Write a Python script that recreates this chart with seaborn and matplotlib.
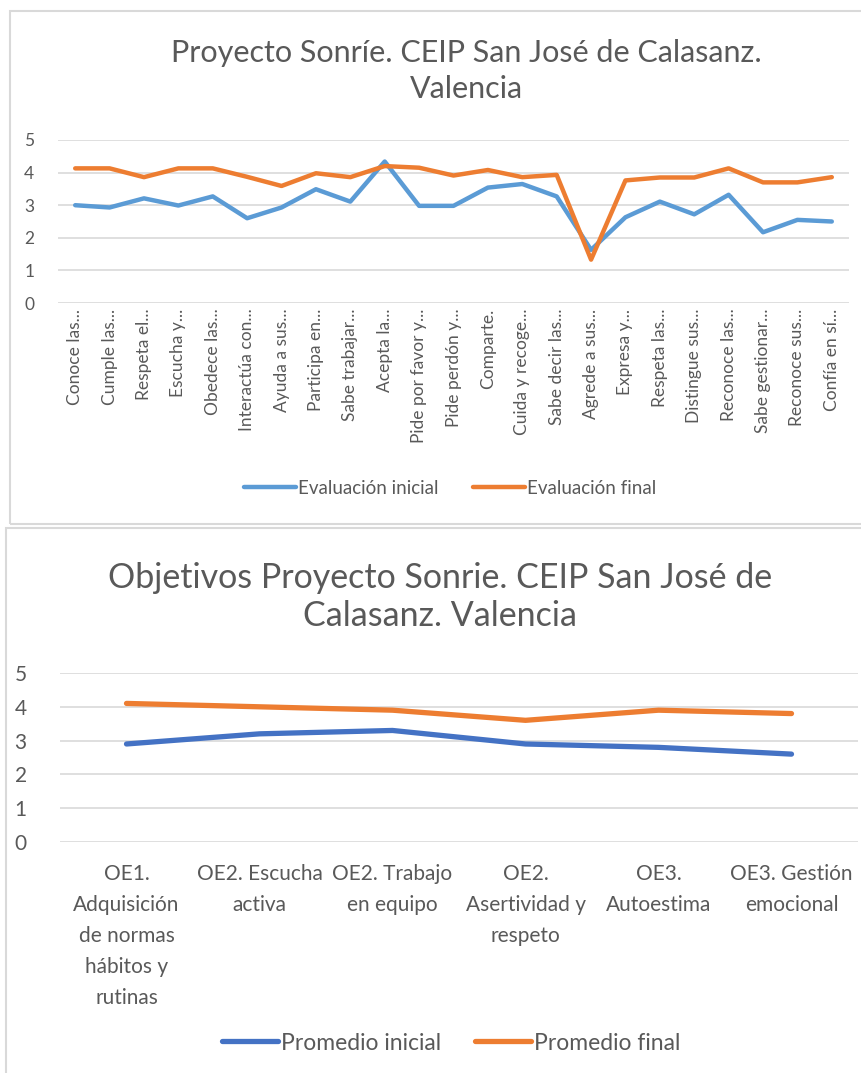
import numpy as np
import pandas as pd
import matplotlib
matplotlib.use("Agg")
import matplotlib.pyplot as plt
from matplotlib.patches import Rectangle
import seaborn as sns

# ---------------- data ----------------
items = ["Conoce las...", "Cumple las...", "Respeta el...", "Escucha y...", "Obedece las...",
         "Interactúa con...", "Ayuda a sus...", "Participa en...", "Sabe trabajar...",
         "Acepta la...", "Pide por favor y...", "Pide perdón y...", "Comparte.",
         "Cuida y recoge...", "Sabe decir las...", "Agrede a sus...", "Expresa y...",
         "Respeta las...", "Distingue sus...", "Reconoce las...", "Sabe gestionar...",
         "Reconoce sus...", "Confía en sí..."]
eval_inicial = [3.0, 2.93, 3.21, 2.99, 3.27, 2.60, 2.93, 3.49, 3.11, 4.34, 2.98, 2.98,
                3.54, 3.65, 3.27, 1.63, 2.63, 3.11, 2.72, 3.32, 2.17, 2.55, 2.50]
eval_final = [4.13, 4.13, 3.86, 4.13, 4.13, 3.87, 3.59, 3.98, 3.86, 4.20, 4.15, 3.91,
              4.08, 3.86, 3.93, 1.33, 3.76, 3.85, 3.85, 4.13, 3.70, 3.70, 3.86]

objetivos = ["OE1.\nAdquisición\nde normas\nhábitos y\nrutinas", "OE2. Escucha\nactiva",
             "OE2. Trabajo\nen equipo", "OE2.\nAsertividad y\nrespeto", "OE3.\nAutoestima",
             "OE3. Gestión\nemocional"]
prom_inicial = [2.9, 3.2, 3.3, 2.9, 2.8, 2.6]
prom_final = [4.1, 4.0, 3.9, 3.6, 3.9, 3.8]

yticks = [0, 1, 2, 3, 4, 5]

# ---------------- style ----------------
sns.set_theme(style="white")
plt.rcParams["font.family"] = ["Lato", "DejaVu Sans"]
TXT = "#595959"
GRID = "#D9D9D9"

W, H = 861, 1073
fig = plt.figure(figsize=(W / 100, H / 100), dpi=100)

def fx(px):
    return px / W

def fy(py):
    return 1 - py / H

# chart borders
fig.patches.append(Rectangle((fx(10), fy(524)), fx(880), 513 / H, transform=fig.transFigure,
                             fill=False, edgecolor=GRID, lw=1.5))
fig.patches.append(Rectangle((fx(6), fy(1090)), fx(880), 562 / H, transform=fig.transFigure,
                             fill=False, edgecolor=GRID, lw=1.5))

def style_axes(ax, fs_y):
    for s in ax.spines.values():
        s.set_visible(False)
    ax.set_ylim(0, 5)
    ax.set_yticks(yticks)
    ax.yaxis.grid(True, color=GRID, lw=1.2)
    ax.xaxis.grid(False)
    ax.set_axisbelow(True)
    ax.tick_params(axis="y", length=0, labelsize=fs_y, labelcolor=TXT, pad=17)
    ax.tick_params(axis="x", length=0, labelcolor=TXT)
    ax.set_xlabel("")
    ax.set_ylabel("")

# ---------------- top chart ----------------
ax1 = fig.add_axes([fx(58), fy(303), fx(849 - 58), 163 / H])
x1 = np.arange(len(items))
df1 = pd.DataFrame({"x": np.concatenate([x1, x1]),
                    "v": eval_inicial + eval_final,
                    "serie": ["Evaluación inicial"] * len(items) + ["Evaluación final"] * len(items)})
sns.lineplot(data=df1, x="x", y="v", hue="serie", palette=["#5B9BD5", "#ED7D31"],
             lw=3.2, sort=False, ax=ax1, legend=False)
style_axes(ax1, 12.5)
ax1.set_xlim(-0.5, len(items) - 0.5)
ax1.set_xticks(x1)
ax1.set_xticklabels(items, rotation=90, fontsize=12.5, va="top", ha="center")
ax1.tick_params(axis="x", pad=4)

fig.text(fx(466), fy(71), "Proyecto Sonríe. CEIP San José de Calasanz.\nValencia",
         ha="center", va="center", fontsize=22, color=TXT, linespacing=1.35)

h1 = [plt.Line2D([], [], color="#5B9BD5", lw=3.2),
      plt.Line2D([], [], color="#ED7D31", lw=3.2)]
fig.legend(h1, ["Evaluación inicial", "Evaluación final"], loc="center",
           bbox_to_anchor=(fx(450), fy(488)), ncol=2, frameon=False, fontsize=13.5,
           handlelength=2.8, handletextpad=0.1, columnspacing=1.8, labelcolor=TXT)

# ---------------- bottom chart ----------------
ax2 = fig.add_axes([fx(60), fy(842), fx(858 - 60), 169 / H])
x2 = np.arange(len(objetivos))
df2 = pd.DataFrame({"x": np.concatenate([x2, x2]),
                    "v": prom_inicial + prom_final,
                    "serie": ["Promedio inicial"] * len(objetivos) + ["Promedio final"] * len(objetivos)})
sns.lineplot(data=df2, x="x", y="v", hue="serie", palette=["#4472C4", "#ED7D31"],
             lw=3.8, sort=False, ax=ax2, legend=False)
style_axes(ax2, 15)
ax2.tick_params(axis="y", pad=24)
ax2.set_xlim(-0.5, len(objetivos) - 0.5)
ax2.set_xticks(x2)
ax2.set_xticklabels(objetivos, fontsize=15, va="top", ha="center", linespacing=1.68)
ax2.tick_params(axis="x", pad=16)

fig.text(fx(440), fy(597), "Objetivos Proyecto Sonrie. CEIP San José de\nCalasanz. Valencia",
         ha="center", va="center", fontsize=24.5, color=TXT, linespacing=1.25)

h2 = [plt.Line2D([], [], color="#4472C4", lw=3.8),
      plt.Line2D([], [], color="#ED7D31", lw=3.8)]
fig.legend(h2, ["Promedio inicial", "Promedio final"], loc="center",
           bbox_to_anchor=(fx(451), fy(1043)), ncol=2, frameon=False, fontsize=16.5,
           handlelength=2.45, handletextpad=0.1, columnspacing=1.5, labelcolor=TXT)

fig.savefig("out.png", dpi=100, facecolor="white")
